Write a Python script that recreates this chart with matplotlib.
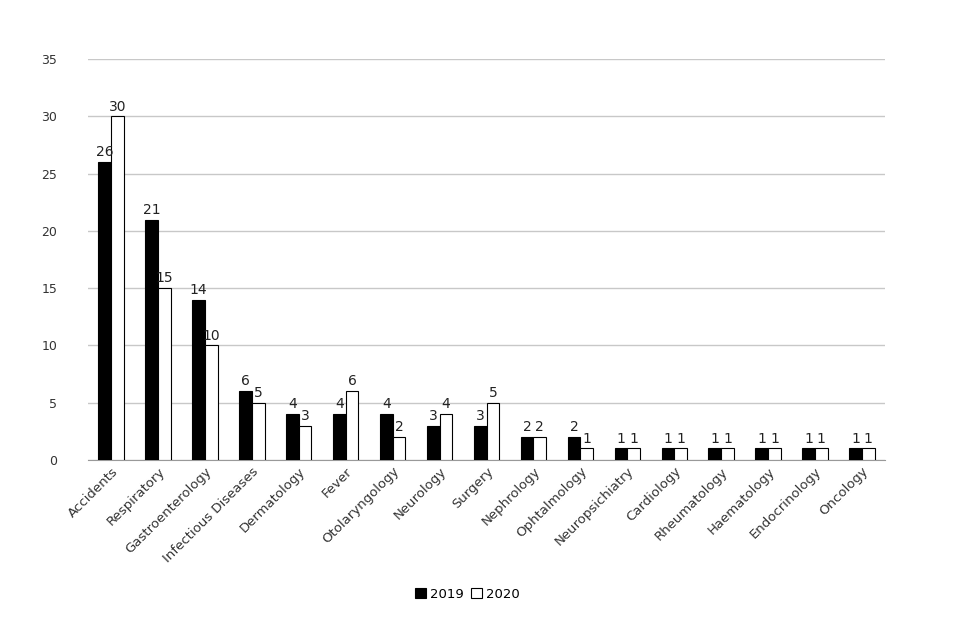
import matplotlib
matplotlib.use("Agg")
import matplotlib.pyplot as plt
import numpy as np

categories = ["Accidents","Respiratory","Gastroenterology","Infectious Diseases","Dermatology","Fever",
              "Otolaryngology","Neurology","Surgery","Nephrology","Ophtalmology","Neuropsichiatry",
              "Cardiology","Rheumatology","Haematology","Endocrinology","Oncology"]
v2019 = [26,21,14,6,4,4,4,3,3,2,2,1,1,1,1,1,1]
v2020 = [30,15,10,5,3,6,2,4,5,2,1,1,1,1,1,1,1]

fig = plt.figure(figsize=(9.74,6.37), dpi=100)
ax = fig.add_axes([0.090,0.278,0.819,0.629])
x = np.arange(len(categories))
w = 0.27
b1 = ax.bar(x-w/2, v2019, w, color="black", edgecolor="black", linewidth=0.8, label="2019", zorder=3)
b2 = ax.bar(x+w/2, v2020, w, color="white", edgecolor="black", linewidth=0.8, label="2020", zorder=3)
for bars in (b1,b2):
    ax.bar_label(bars, padding=2, fontsize=10, color="#222222")
ax.set_ylim(0,35)
ax.set_yticks(range(0,36,5))
ax.set_xlim(-0.5, len(categories)-0.5)
ax.yaxis.grid(True, color="#c8c8c8", linewidth=1, zorder=0)
for s in ["left","right","top"]:
    ax.spines[s].set_visible(False)
ax.spines["bottom"].set_color("#999999")
ax.tick_params(axis="y", length=0, labelsize=9, colors="#333333", pad=22)
ax.tick_params(axis="x", length=0, labelsize=9.5, colors="#333333")
ax.set_xticks(x)
ax.set_xticklabels(categories, rotation=45, ha="right", rotation_mode="anchor")
fig.legend(handles=[b1,b2], loc="center", bbox_to_anchor=(0.48,0.067), ncol=2, frameon=False,
           fontsize=9.5, handlelength=0.8, handleheight=0.8, columnspacing=0.6, handletextpad=0.3)
fig.savefig("out.png", dpi=100, facecolor="white")
